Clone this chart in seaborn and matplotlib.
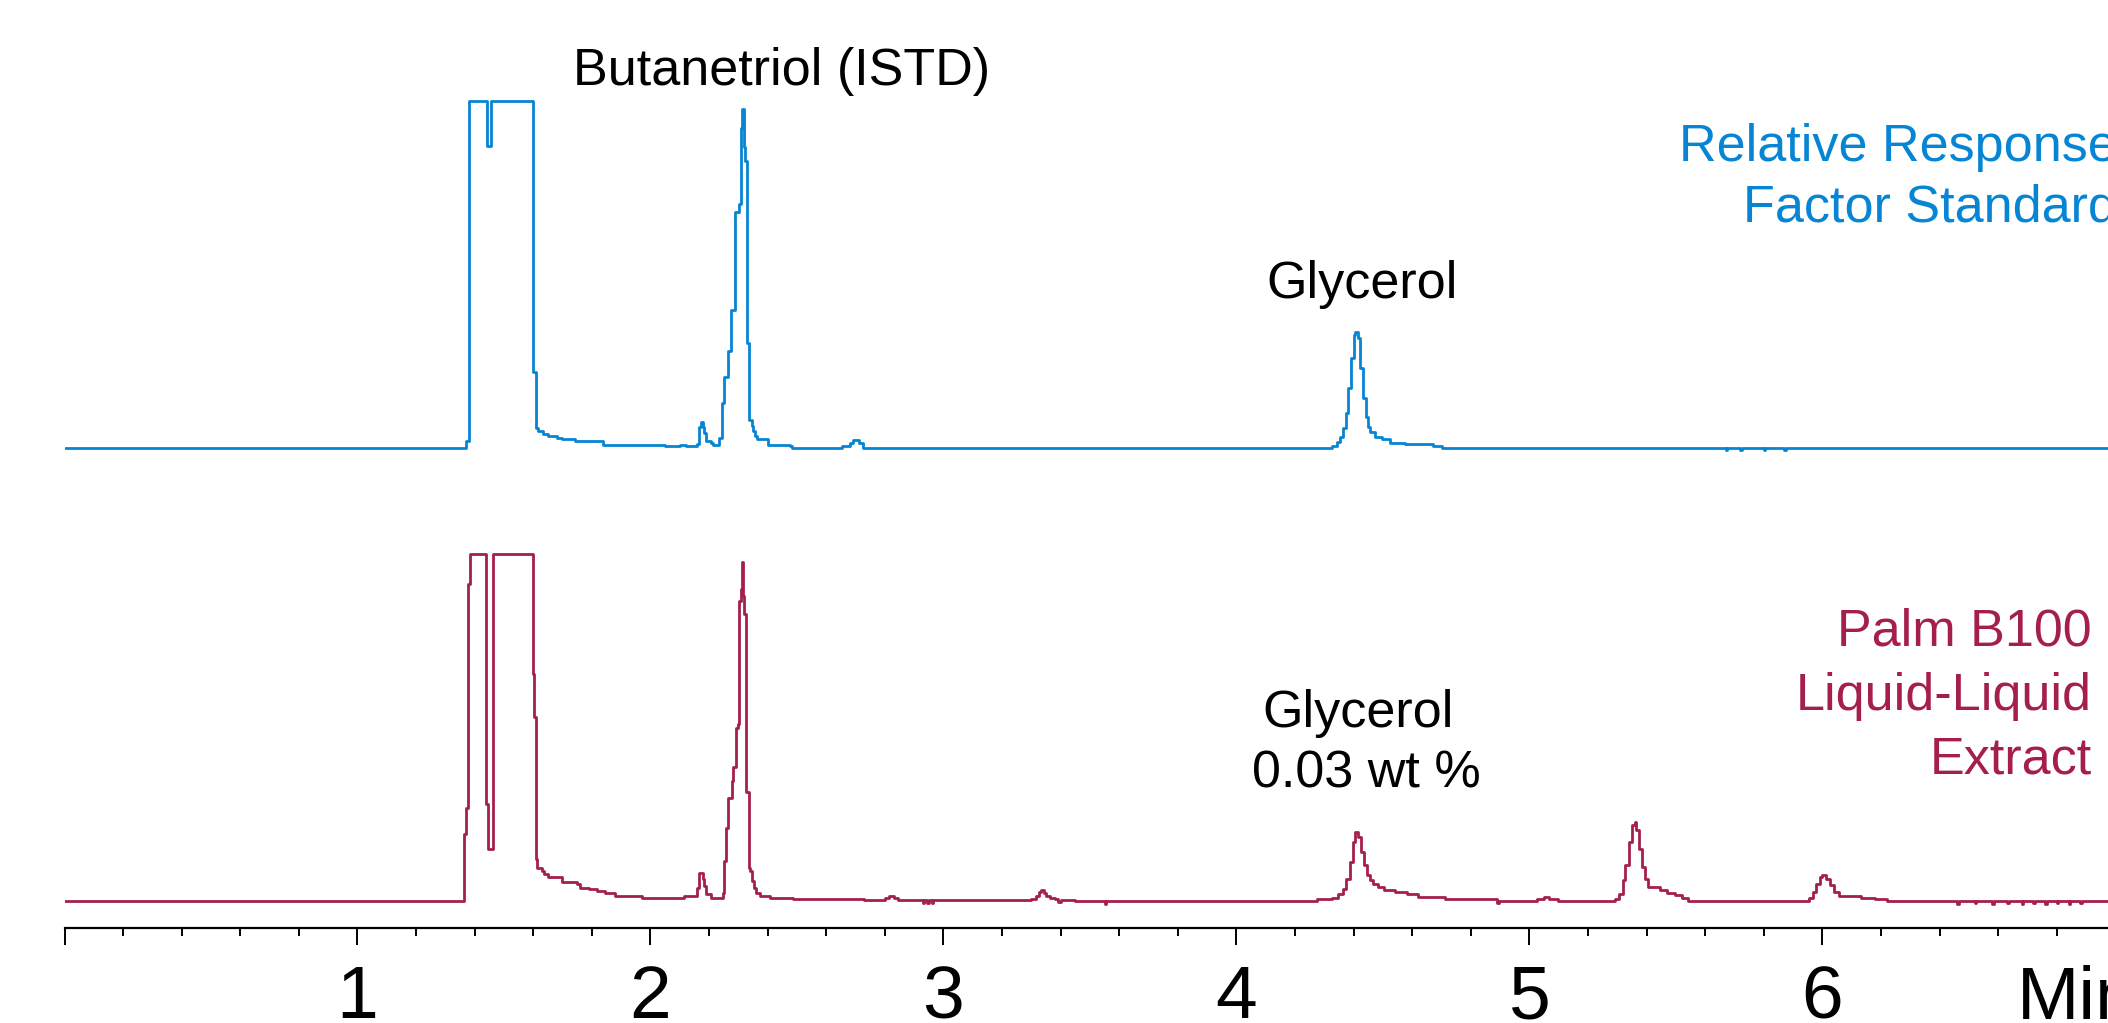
import numpy as np
import pandas as pd
import matplotlib
matplotlib.use("Agg")
import matplotlib.pyplot as plt
import seaborn as sns
from matplotlib.ticker import FixedLocator, FixedFormatter, MultipleLocator

# Relative response factor standard (top trace), time in min, signal in % of full scale
# values are step starts (drawn with steps-post)
std_time = [0.000, 1.372, 1.382, 1.442, 1.456, 1.600, 1.608, 1.617, 1.634, 1.651,
            1.680, 1.697, 1.742, 1.839, 2.049, 2.101, 2.120, 2.158, 2.166, 2.174,
            2.180, 2.184, 2.190, 2.205, 2.215, 2.235, 2.245, 2.252, 2.266, 2.276,
            2.290, 2.302, 2.309, 2.313, 2.318, 2.324, 2.329, 2.337, 2.345, 2.350,
            2.358, 2.365, 2.402, 2.476, 2.482, 2.653, 2.681, 2.692, 2.712, 2.724,
            4.325, 4.344, 4.353, 4.362, 4.373, 4.382, 4.390, 4.400, 4.406, 4.415,
            4.421, 4.432, 4.441, 4.449, 4.457, 4.472, 4.495, 4.523, 4.575, 4.672,
            4.700, 5.670, 5.675, 5.720, 5.725, 5.800, 5.805, 5.870, 5.875, 7.300]
std_signal = [0.0, 2.0, 100.0, 87.0, 100.0, 22.0, 5.7, 4.9, 3.9, 3.4,
              2.9, 2.5, 2.0, 1.0, 0.5, 0.8, 0.5, 1.2, 6.1, 7.6,
              6.0, 4.4, 2.0, 1.4, 1.0, 2.9, 13.0, 20.5, 28.0, 39.7,
              68.0, 70.4, 92.3, 97.6, 86.6, 82.8, 30.2, 8.0, 6.4, 4.9,
              3.4, 2.5, 1.0, 0.5, 0.0, 0.7, 1.5, 2.4, 1.5, 0.0,
              0.6, 1.8, 3.2, 5.7, 10.0, 17.2, 25.8, 32.5, 33.4, 31.6,
              23.0, 14.4, 9.0, 6.1, 4.7, 3.2, 2.6, 1.5, 1.1, 0.5,
              0.0, -0.5, 0.0, -0.5, 0.0, -0.5, 0.0, -0.5, 0.0, 0.0]

# Palm B100 liquid-liquid extract (bottom trace)
ext_time = [0.000, 1.365, 1.372, 1.378, 1.384, 1.439, 1.446, 1.461, 1.600, 1.604,
            1.608, 1.614, 1.630, 1.638, 1.651, 1.697, 1.748, 1.760, 1.790, 1.818,
            1.846, 1.880, 1.971, 2.113, 2.158, 2.167, 2.178, 2.182, 2.190, 2.205,
            2.247, 2.252, 2.256, 2.263, 2.266, 2.278, 2.282, 2.291, 2.297, 2.302,
            2.309, 2.312, 2.316, 2.320, 2.326, 2.337, 2.341, 2.345, 2.352, 2.360,
            2.374, 2.408, 2.487, 2.730, 2.800, 2.815, 2.830, 2.845, 2.930, 2.935,
            2.945, 2.950, 2.960, 2.965, 3.300, 3.315, 3.325, 3.333, 3.342, 3.350,
            3.362, 3.380, 3.390, 3.400, 3.450, 3.550, 3.555, 4.275, 4.327, 4.346,
            4.363, 4.373, 4.386, 4.396, 4.405, 4.414, 4.425, 4.435, 4.444, 4.454,
            4.467, 4.484, 4.503, 4.542, 4.582, 4.621, 4.712, 4.888, 4.890, 4.896,
            5.026, 5.050, 5.065, 5.097, 5.293, 5.306, 5.320, 5.326, 5.339, 5.350,
            5.359, 5.365, 5.374, 5.385, 5.395, 5.404, 5.444, 5.470, 5.496, 5.522,
            5.542, 5.953, 5.966, 5.979, 5.992, 6.000, 6.012, 6.025, 6.038, 6.058,
            6.130, 6.180, 6.220, 6.460, 6.465, 6.520, 6.525, 6.580, 6.585, 6.630,
            6.635, 6.680, 6.685, 6.720, 6.725, 6.760, 6.765, 6.800, 6.805, 6.840,
            6.845, 6.880, 6.885, 7.300]
ext_signal = [0.0, 19.2, 26.9, 91.3, 100.0, 27.9, 14.9, 100.0, 65.4, 52.9,
              12.0, 9.6, 8.7, 7.7, 6.9, 5.6, 4.8, 3.8, 3.4, 2.9,
              2.4, 1.4, 1.0, 1.4, 3.8, 8.2, 6.3, 4.3, 1.9, 1.0,
              2.4, 11.5, 21.1, 25.0, 29.8, 34.6, 38.5, 50.0, 51.0, 86.5,
              89.9, 97.6, 88.0, 82.6, 31.5, 9.6, 8.7, 5.8, 3.8, 2.4,
              1.4, 1.0, 0.6, 0.3, 0.8, 1.4, 0.8, 0.3, -0.6, 0.3,
              -0.6, 0.3, -0.6, 0.3, 0.6, 1.5, 2.6, 3.3, 2.4, 1.5,
              0.9, 0.5, -0.3, 0.3, 0.0, -0.8, 0.0, 0.5, 1.0, 2.0,
              3.4, 6.3, 11.2, 17.0, 19.9, 18.5, 14.1, 10.3, 7.4, 6.0,
              5.0, 4.0, 3.3, 2.6, 1.9, 1.2, 0.7, 0.0, -0.6, 0.0,
              0.6, 1.1, 0.6, 0.0, 0.6, 2.0, 6.0, 10.3, 17.0, 21.8,
              22.8, 20.4, 15.1, 9.8, 6.4, 4.0, 3.3, 2.3, 1.6, 1.0,
              0.0, 1.0, 2.6, 5.0, 6.9, 7.4, 6.4, 4.5, 2.6, 1.3,
              1.0, 0.5, 0.0, -0.8, 0.0, -0.6, 0.0, -0.8, 0.0, -0.6,
              0.0, -0.8, 0.0, -0.6, 0.0, -0.8, 0.0, -0.6, 0.0, -0.8,
              0.0, -0.6, 0.0, 0.0]

tick_pos = [0, 1, 2, 3, 4, 5, 6, 7]
tick_labels = ["", "1", "2", "3", "4", "5", "6", ""]

std_lines = ["Relative Response", "Factor Standard"]
ext_lines = ["Palm B100", "Liquid-Liquid", "Extract"]

blue = "#0685d4"
red = "#a51f4d"

sns.set_style("white")
plt.rcParams['font.family'] = ['Liberation Sans', 'DejaVu Sans']
plt.rcParams['text.color'] = 'black'

fig = plt.figure(figsize=(21.08, 10.23), dpi=100)
# axes runs past the right edge of the figure, like the cropped original
ax = fig.add_axes([64.5 / 2108, 95 / 1023, 7.3 * 293 / 2108, 928 / 1023])

# stack the two traces: offsets and scale in axis units (px above the time axis)
scale = 3.47
top = pd.DataFrame({"t": std_time, "y": 480 + scale * np.array(std_signal)})
bot = pd.DataFrame({"t": ext_time, "y": 27 + scale * np.array(ext_signal)})

sns.lineplot(data=top, x="t", y="y", ax=ax, color=blue, lw=2.0,
             drawstyle="steps-post", estimator=None, sort=False)
sns.lineplot(data=bot, x="t", y="y", ax=ax, color=red, lw=2.0,
             drawstyle="steps-post", estimator=None, sort=False)

ax.set_xlim(0, 7.3)
ax.set_ylim(0, 928)
ax.set_xlabel("")
ax.set_ylabel("")
ax.set_yticks([])
for s in ["left", "top", "right"]:
    ax.spines[s].set_visible(False)
ax.spines["bottom"].set_linewidth(1.6)
ax.spines["bottom"].set_color("black")

ax.xaxis.set_major_locator(FixedLocator(tick_pos))
ax.xaxis.set_major_formatter(FixedFormatter(tick_labels))
ax.xaxis.set_minor_locator(MultipleLocator(0.2))
ax.tick_params(axis="x", which="major", bottom=True, length=12, width=1.4,
               direction="out", labelsize=54, pad=14, colors="black")
ax.tick_params(axis="x", which="minor", bottom=True, length=5.5, width=1.4,
               direction="out", colors="black")
ax.text(6.664, -37 / 928, "Min", transform=ax.get_xaxis_transform(),
        ha="left", va="top", fontsize=54, color="black")

fs = 37.5
ax.text(2.449, 843, "Butanetriol (ISTD)", ha="center", va="baseline", fontsize=fs, color="black")
ax.text(4.430, 630, "Glycerol", ha="center", va="baseline", fontsize=fs, color="black")
ax.text(4.415, 201, "Glycerol", ha="center", va="baseline", fontsize=fs, color="black")
ax.text(4.442, 140, "0.03 wt %", ha="center", va="baseline", fontsize=fs, color="black")

for line, yb in zip(std_lines, [767, 706]):
    ax.text(7.005, yb, line, ha="right", va="baseline", fontsize=fs, color=blue)
for line, yb in zip(ext_lines, [282, 218, 154]):
    ax.text(6.92, yb, line, ha="right", va="baseline", fontsize=fs, color=red)

fig.savefig("out.png", dpi=100)
